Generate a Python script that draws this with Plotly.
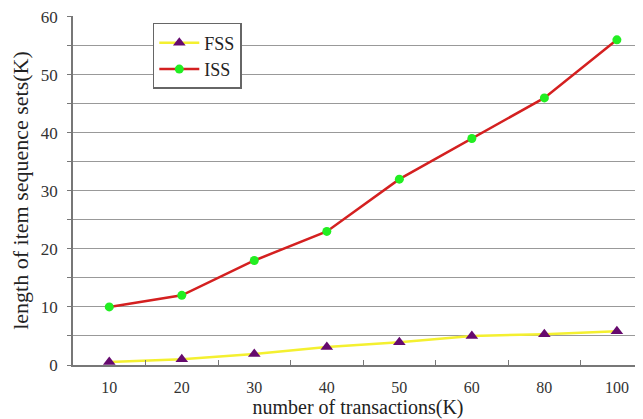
import plotly.graph_objects as go

categories = ["10", "20", "30", "40", "50", "60", "80", "100"]
fss = [0.5, 1.0, 1.9, 3.1, 3.9, 5.0, 5.3, 5.8]
iss = [10, 12, 18, 23, 32, 39, 46, 56]
y_ticks = [0, 10, 20, 30, 40, 50, 60]

font = "Liberation Serif, Times New Roman, serif"

fig = go.Figure()
fig.add_trace(go.Scatter(
    x=categories, y=fss, name="FSS", mode="lines+markers",
    line=dict(color="#f4f030", width=2.5),
    marker=dict(symbol="triangle-up", color="#660a6e", size=11),
))
fig.add_trace(go.Scatter(
    x=categories, y=iss, name="ISS", mode="lines+markers",
    line=dict(color="#d42020", width=2.5),
    marker=dict(symbol="circle", color="#22ee22", size=9),
))

fig.update_layout(
    width=635, height=411,
    margin=dict(l=65, r=0, t=8, b=54, autoexpand=False),
    paper_bgcolor="white", plot_bgcolor="white",
    font=dict(family=font, color="#222222", size=17),
    showlegend=True,
    legend=dict(
        x=0.14, y=0.98, xanchor="left", yanchor="top",
        bgcolor="white", bordercolor="#666666", borderwidth=1.5,
        font=dict(family=font, size=18, color="#222222"),
        itemwidth=40, tracegroupgap=0,
    ),
    xaxis=dict(
        type="category", range=[-0.5, 7.36], automargin=False,
        showgrid=False, showline=True, linecolor="#777777", linewidth=1.5,
        ticks="inside", ticklen=5, tickcolor="#777777", tickson="boundaries",
        ticklabelstandoff=7, ticklabeloverflow="allow",
        tickfont=dict(family=font, size=16, color="#333333"),
        title=dict(text="number of transactions(K)", standoff=3,
                   font=dict(family=font, size=20, color="#222222")),
        zeroline=False,
    ),
    yaxis=dict(
        range=[0, 60.1], tickvals=y_ticks, automargin=False,
        showgrid=True, gridcolor="#999999", gridwidth=1.2,
        minor=dict(dtick=5, showgrid=True, gridcolor="#999999", gridwidth=1.2,
                   ticks="outside", ticklen=4, tickcolor="#777777"),
        showline=True, linecolor="#777777", linewidth=1.5,
        ticks="outside", ticklen=4, tickcolor="#777777",
        ticklabelstandoff=6, ticklabeloverflow="allow",
        tickfont=dict(family=font, size=17, color="#333333"),
        title=dict(text="length of item sequence sets(K)", standoff=10,
                   font=dict(family=font, size=22, color="#222222")),
        zeroline=False,
    ),
)

fig.write_html("out.html")
